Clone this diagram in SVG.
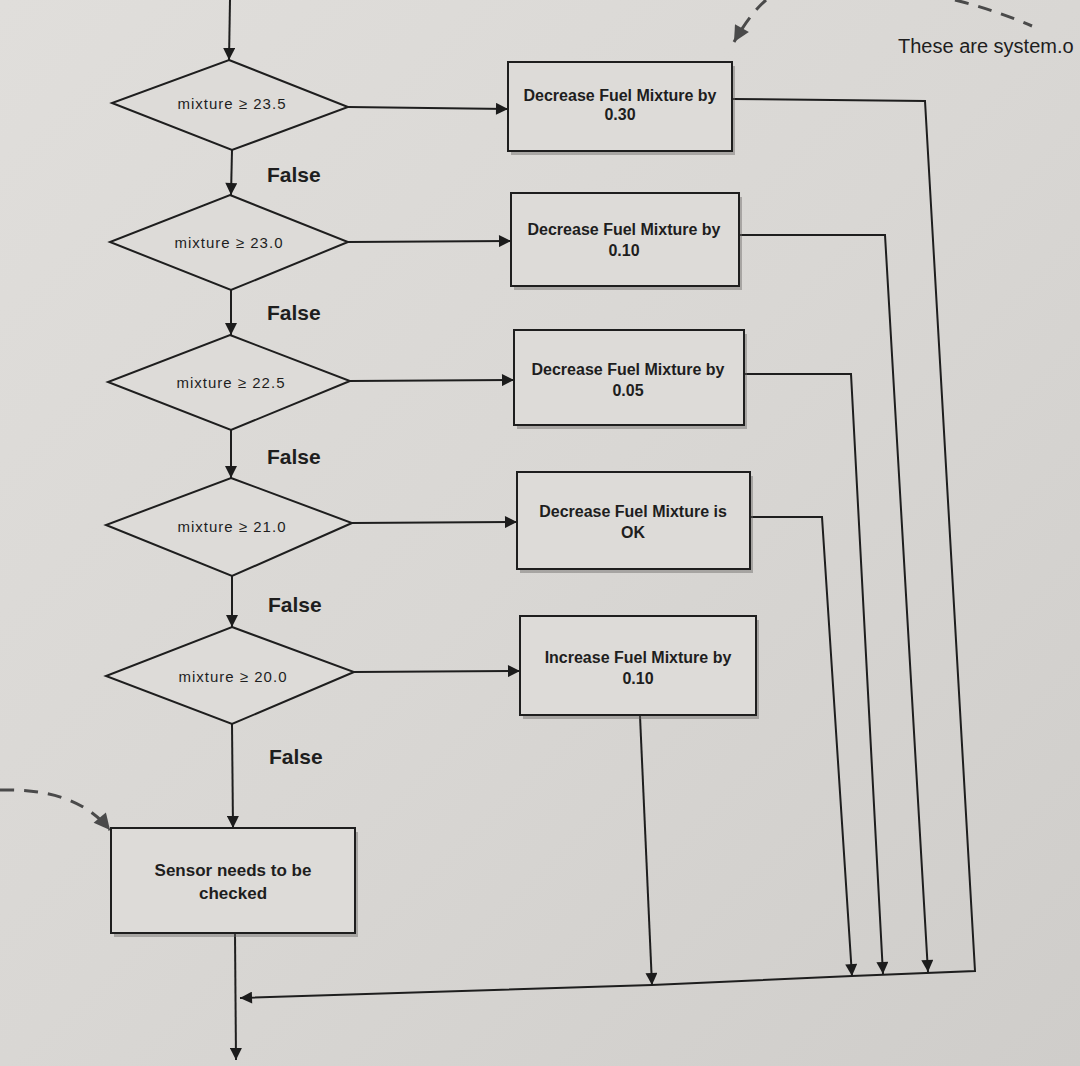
<svg xmlns="http://www.w3.org/2000/svg" width="1080" height="1066" viewBox="0 0 1080 1066">
  <defs>
    <linearGradient id="paper" x1="0" y1="0" x2="1" y2="1">
      <stop offset="0" stop-color="#e0dedb"/>
      <stop offset="0.5" stop-color="#d9d7d4"/>
      <stop offset="1" stop-color="#cfcdca"/>
    </linearGradient>
    <marker id="ah" viewBox="0 0 10 10" refX="10" refY="5" markerWidth="16" markerHeight="12" markerUnits="userSpaceOnUse" orient="auto">
      <path d="M0,0 L10,5 L0,10 z" fill="#1c1c1c"/>
    </marker>
    <marker id="ahg" viewBox="0 0 10 10" refX="10" refY="5" markerWidth="20" markerHeight="16" markerUnits="userSpaceOnUse" orient="auto">
      <path d="M0,0 L10,5 L0,10 z" fill="#4a4a4a"/>
    </marker>
    <style>
      .shape { fill: #dddbd8; stroke: #1e1e1e; stroke-width: 2; }
      .shadow { fill: #6a6866; opacity: 0.45; }
      .line { fill: none; stroke: #1e1e1e; stroke-width: 2; }
      .dash { fill: none; stroke: #4a4a4a; stroke-width: 3; stroke-dasharray: 14 10; }
      .cond { font-family: "Liberation Sans", Arial, sans-serif; font-size: 15px; letter-spacing: 1px; fill: #1e1e1e; text-anchor: middle; }
      .box { font-family: "Liberation Sans", Arial, sans-serif; font-size: 16px; font-weight: bold; fill: #1e1e1e; text-anchor: middle; }
      .lbl { font-family: "Liberation Sans", Arial, sans-serif; font-size: 21px; font-weight: bold; fill: #1e1e1e; }
      .note { font-family: "Liberation Sans", Arial, sans-serif; font-size: 20px; fill: #1e1e1e; }
    </style>
  </defs>

  <rect x="0" y="0" width="1080" height="1066" fill="url(#paper)"/>

  <g id="connectors">
    <path class="line" d="M230,0 L229,60" marker-end="url(#ah)"/>
    <path class="line" d="M232,150 L231,195" marker-end="url(#ah)"/>
    <path class="line" d="M231,290 L231,335" marker-end="url(#ah)"/>
    <path class="line" d="M231,430 L231,478" marker-end="url(#ah)"/>
    <path class="line" d="M232,576 L232,627" marker-end="url(#ah)"/>
    <path class="line" d="M232,724 L233,828" marker-end="url(#ah)"/>
    <path class="line" d="M235,934 L236,1060" marker-end="url(#ah)"/>

    <path class="line" d="M348,107 L508,109" marker-end="url(#ah)"/>
    <path class="line" d="M348,242 L511,241" marker-end="url(#ah)"/>
    <path class="line" d="M350,381 L514,380" marker-end="url(#ah)"/>
    <path class="line" d="M352,523 L517,522" marker-end="url(#ah)"/>
    <path class="line" d="M354,672 L520,671" marker-end="url(#ah)"/>

    <path class="line" d="M732,99 L925,101 L975,971 L852,976 L652,985 L240,998" marker-end="url(#ah)"/>
    <path class="line" d="M739,235 L885,235 L928,972" marker-end="url(#ah)"/>
    <path class="line" d="M744,374 L851,374 L883,974" marker-end="url(#ah)"/>
    <path class="line" d="M750,517 L822,517 L852,976" marker-end="url(#ah)"/>
    <path class="line" d="M640,716 L652,985" marker-end="url(#ah)"/>

    <path class="dash" d="M766,0 Q750,14 734,42" marker-end="url(#ahg)"/>
    <path class="dash" d="M955,0 Q995,10 1032,26"/>
    <path class="dash" d="M0,790 C50,789 85,800 110,830" marker-end="url(#ahg)"/>
  </g>

  <g id="d1">
    <polygon class="shape" points="229,60 348,107 232,150 112,103"/>
    <text class="cond" x="232" y="109">mixture ≥ 23.5</text>
  </g>
  <g id="d2">
    <polygon class="shape" points="230,195 348,242 231,290 110,242"/>
    <text class="cond" x="229" y="248">mixture ≥ 23.0</text>
  </g>
  <g id="d3">
    <polygon class="shape" points="230,335 350,381 231,430 108,382"/>
    <text class="cond" x="231" y="388">mixture ≥ 22.5</text>
  </g>
  <g id="d4">
    <polygon class="shape" points="231,478 352,523 232,576 106,525"/>
    <text class="cond" x="232" y="532">mixture ≥ 21.0</text>
  </g>
  <g id="d5">
    <polygon class="shape" points="232,627 354,672 232,724 106,676"/>
    <text class="cond" x="233" y="682">mixture ≥ 20.0</text>
  </g>

  <g id="f1"><text class="lbl" x="267" y="182">False</text></g>
  <g id="f2"><text class="lbl" x="267" y="320">False</text></g>
  <g id="f3"><text class="lbl" x="267" y="464">False</text></g>
  <g id="f4"><text class="lbl" x="268" y="612">False</text></g>
  <g id="f5"><text class="lbl" x="269" y="764">False</text></g>

  <g id="b1">
    <rect class="shadow" x="511" y="66" width="224" height="89"/>
    <rect class="shape" x="508" y="62" width="224" height="89"/>
    <text class="box" x="620" y="101">Decrease Fuel Mixture by</text>
    <text class="box" x="620" y="120">0.30</text>
  </g>
  <g id="b2">
    <rect class="shadow" x="514" y="197" width="228" height="93"/>
    <rect class="shape" x="511" y="193" width="228" height="93"/>
    <text class="box" x="624" y="235">Decrease Fuel Mixture by</text>
    <text class="box" x="624" y="256">0.10</text>
  </g>
  <g id="b3">
    <rect class="shadow" x="517" y="334" width="230" height="95"/>
    <rect class="shape" x="514" y="330" width="230" height="95"/>
    <text class="box" x="628" y="375">Decrease Fuel Mixture by</text>
    <text class="box" x="628" y="396">0.05</text>
  </g>
  <g id="b4">
    <rect class="shadow" x="520" y="476" width="233" height="97"/>
    <rect class="shape" x="517" y="472" width="233" height="97"/>
    <text class="box" x="633" y="517">Decrease Fuel Mixture is</text>
    <text class="box" x="633" y="538">OK</text>
  </g>
  <g id="b5">
    <rect class="shadow" x="523" y="620" width="236" height="99"/>
    <rect class="shape" x="520" y="616" width="236" height="99"/>
    <text class="box" x="638" y="663">Increase Fuel Mixture by</text>
    <text class="box" x="638" y="684">0.10</text>
  </g>
  <g id="sensor">
    <rect class="shadow" x="114" y="832" width="244" height="105"/>
    <rect class="shape" x="111" y="828" width="244" height="105"/>
    <text class="box" x="233" y="876" style="font-size:17px">Sensor needs to be</text>
    <text class="box" x="233" y="899" style="font-size:17px">checked</text>
  </g>

  <g id="note">
    <text class="note" x="898" y="53">These are system.o</text>
  </g>
</svg>
